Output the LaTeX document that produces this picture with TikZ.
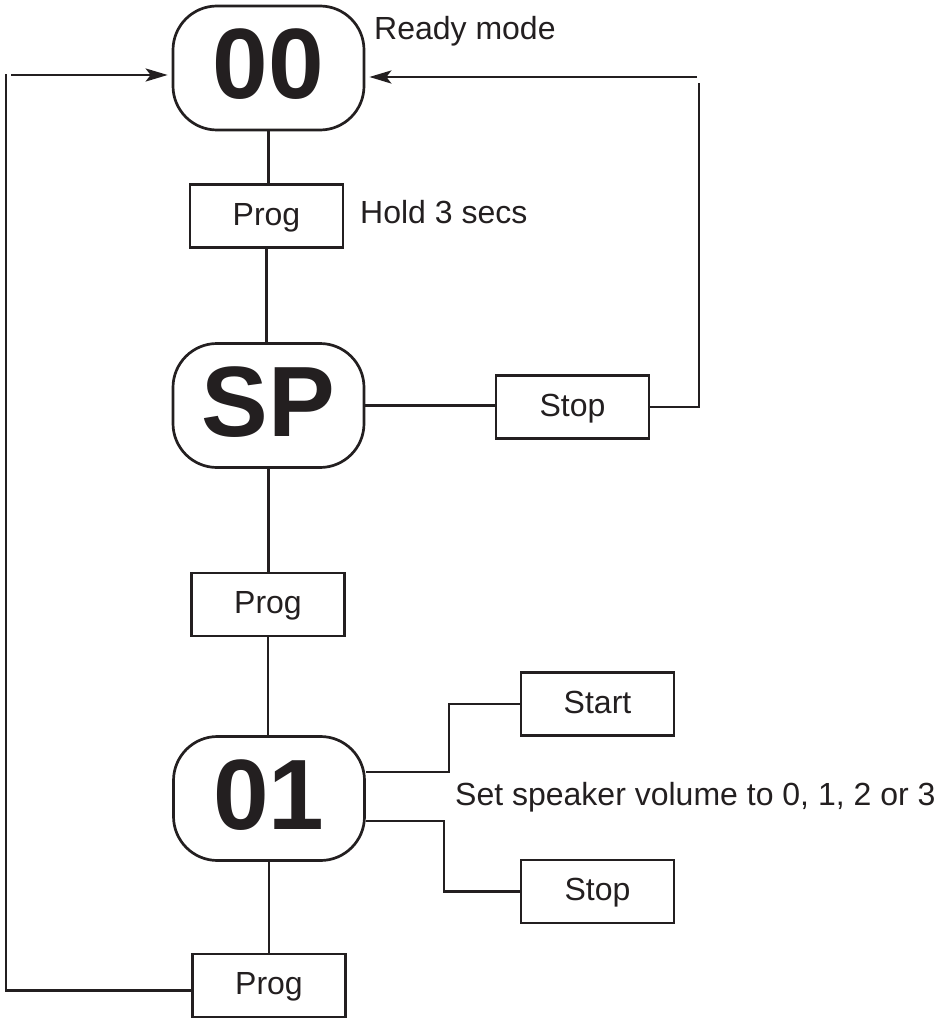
\documentclass[tikz,border=0pt]{standalone}
\usepackage{fontspec}
\setmainfont{Liberation Sans}
\usetikzlibrary{arrows.meta,calc}
\definecolor{ink}{HTML}{231F20}
\tikzset{
  statebox/.style={draw=ink, line width=2.7pt, rounded corners=44pt, minimum width=191pt, minimum height=124pt, inner sep=0pt,
    font=\fontsize{100}{110}\selectfont\bfseries, text=ink, text height=72pt, text depth=10pt},
  keybox/.style={draw=ink, line width=2.7pt, minimum width=153pt, minimum height=63pt, inner sep=0pt,
    font=\fontsize{32}{38}\selectfont, text=ink, text height=23pt, text depth=5pt},
  note/.style={font=\fontsize{32}{38}\selectfont, text=ink, inner sep=0pt, anchor=base west},
  wire/.style={draw=ink, line width=2.7pt},
  arrowwire/.style={wire, -{Stealth[length=22pt,width=13pt,inset=5pt]}, shorten >=4pt}
}
\begin{document}
\begin{tikzpicture}[x=1pt,y=-1pt]
\useasboundingbox (0,0) rectangle (944,1019);
% states
\node[statebox] (s00) at (268.5,68) {00};
\node[statebox] (ssp) at (268.5,405.5) {SP};
\node[statebox] (s01) at (269,798.5) {01};
% keys
\node[keybox] (prog1) at (266.5,216) {Prog};
\node[keybox] (prog2) at (268,604.5) {Prog};
\node[keybox] (prog3) at (269,985.5) {Prog};
\node[keybox] (stop1) at (572.5,407) {Stop};
\node[keybox] (start) at (597.5,704) {Start};
\node[keybox] (stop2) at (597.5,891.5) {Stop};
% notes
\node[note] (ready) at (374,40) {Ready mode};
\node[note] (hold) at (360,223) {Hold 3 secs};
\node[note] (vol) at (455,805) {Set speaker volume to 0, 1, 2 or 3};
% coordinates
\coordinate (ltop) at (11,75);
\coordinate (lcorner) at (6,74);
\coordinate (rtop) at (697,77);
\coordinate (rcorner) at (699,83);
\coordinate (j1) at (449,772);
\coordinate (j2) at (444,821);
% vertical chain
\draw[wire] (s00.south) -- (s00.south |- prog1.north);
\draw[wire] (prog1.south) -- (prog1.south |- ssp.north);
\draw[wire] (ssp.south) -- (ssp.south |- prog2.north);
\draw[wire] (prog2.south) -- (prog2.south |- s01.north);
\draw[wire] (s01.south) -- (s01.south |- prog3.north);
% SP -> Stop -> back to 00
\draw[wire] (ssp.east) -- (ssp.east -| stop1.west);
\draw[wire] (stop1.east) -| (rcorner);
\draw[arrowwire] (rtop) -- (rtop -| s00.east);
% Prog -> back to 00 on the left
\draw[wire] ([yshift=-5pt]prog3.west) -| (lcorner);
\draw[arrowwire] (ltop) -- (ltop -| s00.west);
% 01 branches
\draw[wire] ([yshift=26.5pt]s01.east) -- (j1) |- (start.west);
\draw[wire] ([yshift=-22.5pt]s01.east) -- (j2) |- (stop2.west);
\end{tikzpicture}
\end{document}
